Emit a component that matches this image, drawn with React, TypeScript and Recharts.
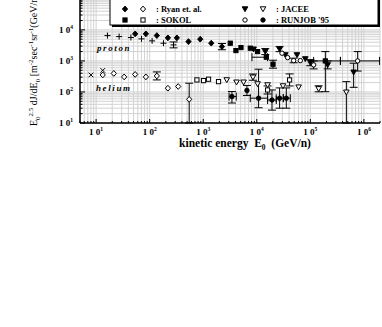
import React from "react"
import { ScatterChart, Scatter, XAxis, YAxis, CartesianGrid, ErrorBar } from "recharts"

type Err = [number, number] | null

// "+" proton (first legend row is cut off in the source)
const plusE = [16.3, 26.9, 44.6, 70.4, 111, 181, 279]
const plusF = [6550, 6080, 5650, 5130, 4420, 3720, 3280]
const plusErr: Err[] = [null, null, null, null, null, null, [650, 800]]

// "x" helium
const crossE = [8.0, 13.3]
const crossF = [353, 494]

// Ryan et al.
const ryanPE = [53.6, 85, 136, 219, 322, 531, 879, 1412, 2237]
const ryanPF = [7430, 7430, 6550, 5520, 5520, 4200, 5010, 3720, 2890]
const ryanPErr: Err[] = [null, null, null, null, null, null, null, null, [600, 750]]
const ryanHE = [13.3, 21.4, 33.4, 53.6, 85, 136, 219, 341, 547]
const ryanHF = [353, 395, 305, 367, 305, 328, 132, 150, 58]
const ryanHErr: Err[] = [null, null, null, null, null, [84, 114], null, null, [48, 133]]

// SOKOL
const sokolPE = [3198, 4083, 5070, 7560, 10350, 15060, 20090, 190600]
const sokolPF = [3720, 2150, 2690, 2570, 1995, 1316, 783, 1000]
const sokolPErr: Err[] = [null, null, null, null, null, null, [200, 270], [898, 995]]
const sokolPXErr: Err[] = [null, null, null, null, null, [6930, 860], null, [75300, 173400]]
const sokolHE = [762, 1014, 1257, 1932, 15920, 41040]
const sokolHF = [244, 232, 257, 215, 116, 244]
const sokolHErr: Err[] = [null, null, null, null, [30, 40], [88, 137]]

// JACEE
const jaceePE = [8710, 14430, 26680, 34120, 56400, 80600, 100000, 210400, 644000]
const jaceePF = [2385, 1995, 2385, 1560, 1560, 1160, 881, 743, 432]
const jaceePErr: Err[] = [null, [400, 500], [400, 500], null, null, null, [180, 220], [190, 250], [291, 411]]
const jaceeHE = [2750, 4190, 5665, 8490, 10350, 15920, 30900, 60400, 143000, 470800]
const jaceeHF = [244, 206, 206, 298, 181, 168, 156, 143, 126, 98]
const jaceeHErr: Err[] = [null, null, null, [60, 80], null, null, null, null, [25, 32], [88, 117]]

// RUNJOB '95
const runjobPE = [29580, 37640, 48750, 65000, 115300, 765000]
const runjobPF = [1770, 1277, 1023, 1023, 743, 1000]
const runjobPErr: Err[] = [null, null, [150, 200], null, [190, 250], [529, 995]]
const runjobPXErr: Err[] = [null, null, null, null, null, [400000, 1200000]]
const runjobHE = [3438, 6555, 10810, 19230, 26680, 35570]
const runjobHF = [71, 112, 63, 55, 63, 63]
const runjobHErr: Err[] = [[27, 32], [35, 50], [32, 477], [29, 61], [33, 72], [33, 72]]
const runjobHXErr: Err[] = [[400, 700], null, [3250, 5110], [3300, 3900], [3580, 4580], [4300, 6700]]

const decades = [0, 1, 2, 3, 4, 5, 6]
const mults = [1, 2, 3, 4, 5, 6, 7, 8, 9]
const xTicks = decades.flatMap((d) => mults.map((m) => m * 10 ** d)).filter((v) => v >= 5 && v <= 2e6)
const yTicks = decades.flatMap((d) => mults.map((m) => m * 10 ** d)).filter((v) => v >= 10 && v <= 3e5)

const FONT = "'Liberation Serif', 'DejaVu Serif', serif"

function pts(E: number[], F: number[], ey?: Err[], ex?: Err[]) {
  return E.map((x, i) => ({
    x,
    y: F[i],
    ey: ey && ey[i] ? ey[i] : undefined,
    ex: ex && ex[i] ? ex[i] : undefined,
  }))
}

function Mark({ cx, cy, kind, filled }: any) {
  if (cx == null || cy == null) return null
  const s = { stroke: "#000", strokeWidth: 1, fill: filled ? "#000" : "#fff" }
  switch (kind) {
    case "plus":
      return <path d={`M${cx - 3},${cy}H${cx + 3}M${cx},${cy - 3}V${cy + 3}`} stroke="#000" strokeWidth={1} />
    case "cross":
      return (
        <path
          d={`M${cx - 2.3},${cy - 2.3}L${cx + 2.3},${cy + 2.3}M${cx - 2.3},${cy + 2.3}L${cx + 2.3},${cy - 2.3}`}
          stroke="#000"
          strokeWidth={1}
        />
      )
    case "diamond":
      return <path d={`M${cx},${cy - 2.9}L${cx + 2.6},${cy}L${cx},${cy + 2.9}L${cx - 2.6},${cy}Z`} {...s} />
    case "square":
      return <rect x={cx - 2.1} y={cy - 2.1} width={4.2} height={4.2} {...s} />
    case "tri":
      return <path d={`M${cx - 2.8},${cy - 2.2}L${cx + 2.8},${cy - 2.2}L${cx},${cy + 2.7}Z`} {...s} />
    default:
      return <circle cx={cx} cy={cy} r={2.2} {...s} />
  }
}

const series = [
  { id: "plus", data: pts(plusE, plusF, plusErr), kind: "plus", filled: true },
  { id: "cross", data: pts(crossE, crossF), kind: "cross", filled: true },
  { id: "ryanP", data: pts(ryanPE, ryanPF, ryanPErr), kind: "diamond", filled: true },
  { id: "ryanH", data: pts(ryanHE, ryanHF, ryanHErr), kind: "diamond", filled: false },
  { id: "sokolP", data: pts(sokolPE, sokolPF, sokolPErr, sokolPXErr), kind: "square", filled: true },
  { id: "sokolH", data: pts(sokolHE, sokolHF, sokolHErr), kind: "square", filled: false },
  { id: "jaceeP", data: pts(jaceePE, jaceePF, jaceePErr), kind: "tri", filled: true },
  { id: "jaceeH", data: pts(jaceeHE, jaceeHF, jaceeHErr), kind: "tri", filled: false },
  { id: "runjobP", data: pts(runjobPE, runjobPF, runjobPErr, runjobPXErr), kind: "circle", filled: false },
  { id: "runjobH", data: pts(runjobHE, runjobHF, runjobHErr, runjobHXErr), kind: "circle", filled: true },
]

const isDecade = (v: number) => Math.abs(Math.log10(v) - Math.round(Math.log10(v))) < 1e-6

function XTick({ x, y, payload }: any) {
  const v = payload.value
  const major = isDecade(v)
  return (
    <g>
      <line x1={x} x2={x} y1={y} y2={y - (major ? 4 : 2)} stroke="#000" />
      {major && (
        <text x={x} y={y + 12} textAnchor="middle" fontSize={9} fontWeight="bold" fontFamily={FONT}>
          1 0<tspan dy={-4} fontSize={5.5}>{Math.round(Math.log10(v))}</tspan>
        </text>
      )}
    </g>
  )
}

function YTick({ x, y, payload }: any) {
  const v = payload.value
  const major = isDecade(v)
  return (
    <g>
      <line x1={x} x2={x + (major ? 5 : 2.5)} y1={y} y2={y} stroke="#000" />
      {major && v < 1e5 && (
        <text x={x - 7} y={y + 3} textAnchor="end" fontSize={9} fontWeight="bold" fontFamily={FONT}>
          1 0<tspan dy={-4} fontSize={5.5}>{Math.round(Math.log10(v))}</tspan>
        </text>
      )}
    </g>
  )
}

function Overlay() {
  const t = { fontFamily: FONT, fontWeight: "bold" as const, fontSize: 8.5 }
  return (
    <svg width={382} height={327} style={{ position: "absolute", left: 0, top: 0, pointerEvents: "none" }}>
      {/* legend box */}
      <rect x={112} y={-18} width={268} height={45} fill="#000" />
      <rect x={110} y={-20} width={268} height={45} fill="#fff" stroke="#000" strokeWidth={1} />
      <Mark cx={125} cy={-3} kind="plus" filled />
      <Mark cx={143} cy={-3} kind="cross" filled />
      <Mark cx={125} cy={9} kind="diamond" filled />
      <Mark cx={143} cy={9} kind="diamond" filled={false} />
      <text x={156} y={12} {...t}>: Ryan et. al.</text>
      <Mark cx={245} cy={9} kind="tri" filled />
      <Mark cx={263} cy={9} kind="tri" filled={false} />
      <text x={276} y={12} {...t}>: JACEE</text>
      <Mark cx={125} cy={20} kind="square" filled />
      <Mark cx={143} cy={20} kind="square" filled={false} />
      <text x={156} y={23} {...t}>: SOKOL</text>
      <Mark cx={245} cy={20} kind="circle" filled={false} />
      <Mark cx={263} cy={20} kind="circle" filled />
      <text x={276} y={23} {...t}>: RUNJOB '95</text>

      <text x={97} y={51} fontFamily={FONT} fontWeight="bold" fontStyle="italic" fontSize={9} letterSpacing={1.6}>
        proton
      </text>
      <text x={96} y={91} fontFamily={FONT} fontWeight="bold" fontStyle="italic" fontSize={9} letterSpacing={1.6}>
        helium
      </text>

      <text x={245} y={147} textAnchor="middle" fontFamily={FONT} fontWeight="bold" fontSize={11.5} style={{ whiteSpace: "pre" }}>
        kinetic energy  E<tspan dy={2.5} fontSize={7.5}>0</tspan>
        <tspan dy={-2.5}>  (GeV/n)</tspan>
      </text>

      <text transform="rotate(-90 37 126)" x={37} y={126} fontFamily={FONT} fontSize={10}>
        E<tspan dy={2.5} fontSize={7}>0</tspan>
        <tspan dy={-6.5} fontSize={7}>2.5</tspan>
        <tspan dy={4}> dJ/dE</tspan>
        <tspan dy={2.5} fontSize={7}>0</tspan>
        <tspan dy={-2.5}> [m</tspan>
        <tspan dy={-4} fontSize={7}>-2</tspan>
        <tspan dy={4}>sec</tspan>
        <tspan dy={-4} fontSize={7}>-1</tspan>
        <tspan dy={4}>sr</tspan>
        <tspan dy={-4} fontSize={7}>-1</tspan>
        <tspan dy={4}>(GeV/n)</tspan>
        <tspan dy={-4} fontSize={7}>1.5</tspan>
        <tspan dy={4}>]</tspan>
      </text>
    </svg>
  )
}

export default function App() {
  return (
    <div>
      <div style={{ position: "absolute", left: 0, top: -36, width: 382, height: 191 }}>
        <ScatterChart width={382} height={191} margin={{ top: 20, right: 2, bottom: 0, left: 0 }}>
          <CartesianGrid stroke="#d2d2d2" strokeWidth={1} />
          <XAxis
            dataKey="x"
            type="number"
            scale="log"
            domain={[5, 2e6]}
            allowDataOverflow
            ticks={xTicks}
            interval={0}
            tick={<XTick />}
            tickSize={0}
            tickMargin={0}
            height={32}
            axisLine={{ stroke: "#000", strokeWidth: 1.5 }}
            tickLine={false}
          />
          <YAxis
            dataKey="y"
            type="number"
            scale="log"
            domain={[10, 3e5]}
            allowDataOverflow
            ticks={yTicks}
            interval={0}
            tick={<YTick />}
            tickSize={0}
            tickMargin={0}
            width={80}
            axisLine={{ stroke: "#000", strokeWidth: 1.5 }}
            tickLine={false}
          />
          {series.map((s) => (
            <Scatter
              key={s.id}
              data={s.data}
              isAnimationActive={false}
              shape={(p: any) => <Mark cx={p.cx} cy={p.cy} kind={s.kind} filled={s.filled} />}
            >
              <ErrorBar dataKey="ey" direction="y" width={4} stroke="#000" strokeWidth={1} isAnimationActive={false} />
              <ErrorBar dataKey="ex" direction="x" width={4} stroke="#000" strokeWidth={1} isAnimationActive={false} />
            </Scatter>
          ))}
        </ScatterChart>
      </div>
      <Overlay />
    </div>
  )
}
